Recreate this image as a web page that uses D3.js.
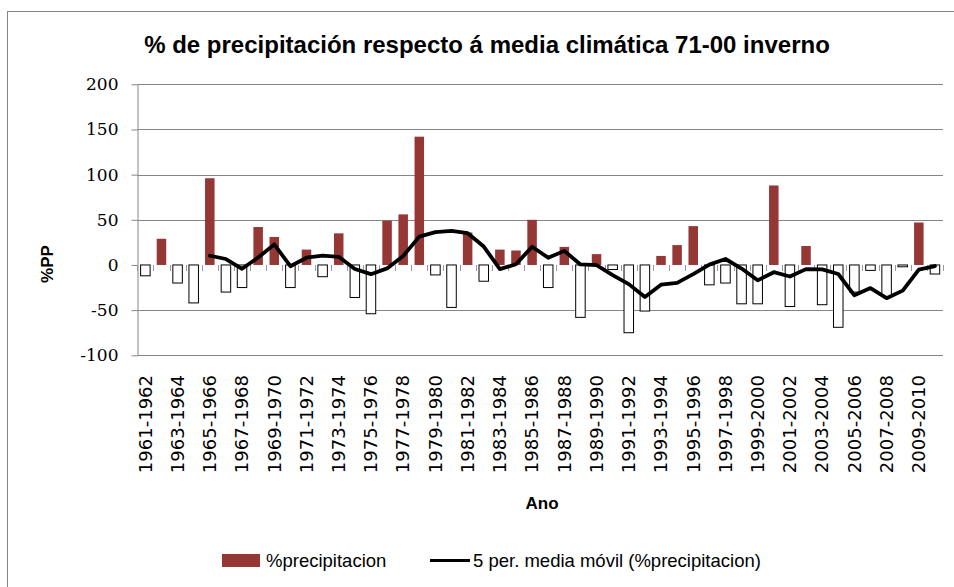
<!DOCTYPE html>
<html lang="gl">
<head>
  <meta charset="UTF-8">
  <title>% de precipitación inverno</title>
  <script src="https://d3js.org/d3.v7.min.js"></script>
  <style>
    body { margin: 0; padding: 0; background: #fff; }
    .title { font-family: "Liberation Sans", Arial, sans-serif; font-weight: bold; font-size: 24px; fill: #000; }
    .y-axis text { font-family: "DejaVu Serif", serif; font-size: 17px; fill: #000; }
    .y-axis path, .y-axis line { stroke: #868686; }
    .x-axis text { font-family: "DejaVu Sans", sans-serif; font-size: 18px; fill: #000; }
    .axis-title { font-family: "Liberation Sans", Arial, sans-serif; font-weight: bold; font-size: 17px; }
    .legend text { font-family: "Liberation Sans", Arial, sans-serif; font-size: 18.5px; }
  </style>
</head>
<body>
  <div id="chart"></div>
  <script>
    const categories = [
      "1961-1962", "1962-1963", "1963-1964", "1964-1965", "1965-1966", "1966-1967", "1967-1968", "1968-1969",
      "1969-1970", "1970-1971", "1971-1972", "1972-1973", "1973-1974", "1974-1975", "1975-1976", "1976-1977",
      "1977-1978", "1978-1979", "1979-1980", "1980-1981", "1981-1982", "1982-1983", "1983-1984", "1984-1985",
      "1985-1986", "1986-1987", "1987-1988", "1988-1989", "1989-1990", "1990-1991", "1991-1992", "1992-1993",
      "1993-1994", "1994-1995", "1995-1996", "1996-1997", "1997-1998", "1998-1999", "1999-2000", "2000-2001",
      "2001-2002", "2002-2003", "2003-2004", "2004-2005", "2005-2006", "2006-2007", "2007-2008", "2008-2009",
      "2009-2010", "2010-2011"
    ];

    // % precipitación respecto á media 71-00
    const precip = [
      -12, 29, -20, -42, 96, -30, -25, 42, 31, -25,
      17, -13, 35, -36, -54, 49, 56, 142, -11, -47,
      36, -18, 17, 16, 50, -25, 20, -58, 12, -5,
      -75, -51, 10, 22, 43, -22, -20, -43, -43, 88,
      -46, 21, -44, -69, -30, -6, -35, -2, 47, -10
    ];

    // 5 per. media móvil
    const movingAvg = [
      null, null, null, null, 10.2, 6.6, -4.2, 8.2, 22.8, -1.4,
      8, 10.4, 9, -4.4, -10.2, -3.8, 10, 31.4, 36.4, 37.8,
      35.2, 20.4, -4.6, 0.8, 20.2, 8, 15.6, 0.6, -0.2, -11.2,
      -21.2, -35.4, -21.8, -19.8, -10.2, 0.4, 6.6, -4, -17, -8,
      -12.8, -4.6, -4.8, -10, -33.6, -25.6, -36.8, -28.4, -5.2, -1.2
    ];

    const yTicks = [-100, -50, 0, 50, 100, 150, 200];

    const W = 954, H = 587;
    const plot = { left: 137.3, right: 943, top: 84.3, bottom: 355.3 };

    const svg = d3.select("#chart")
      .append("svg")
      .attr("width", W)
      .attr("height", H);

    // chart frame
    svg.append("rect")
      .attr("x", 7.5).attr("y", 11.5)
      .attr("width", 960).attr("height", 600)
      .attr("fill", "none")
      .attr("stroke", "#868686");

    svg.append("text")
      .attr("class", "title")
      .attr("x", 487)
      .attr("y", 53)
      .attr("text-anchor", "middle")
      .text("% de precipitación respecto á media climática 71-00 inverno");

    const x = d3.scaleBand()
      .domain(categories)
      .range([plot.left, plot.right])
      .paddingInner(0.41)
      .paddingOuter(0.205);

    const y = d3.scaleLinear()
      .domain([-100, 200])
      .range([plot.bottom, plot.top]);

    // gridlines
    svg.append("g")
      .selectAll("line")
      .data(yTicks.filter(d => d !== 0))
      .enter()
      .append("line")
      .attr("x1", plot.left)
      .attr("x2", plot.right)
      .attr("y1", d => Math.round(y(d)) + 0.5)
      .attr("y2", d => Math.round(y(d)) + 0.5)
      .attr("stroke", "#868686");

    // y axis (plain hyphen for negatives, as in the original)
    svg.append("g")
      .attr("class", "y-axis")
      .attr("transform", `translate(${Math.round(plot.left) + 0.5},0)`)
      .call(d3.axisLeft(y).tickValues(yTicks).tickFormat(d => String(d))
        .tickSize(6).tickPadding(13).tickSizeOuter(0));

    // tick marks on the zero line
    const step = x.step();
    const bounds = categories.map(c => x(c) - step * x.paddingInner() / 2).concat([plot.right]);
    svg.append("g")
      .selectAll("line")
      .data(bounds)
      .enter()
      .append("line")
      .attr("x1", d => Math.round(d) + 0.5)
      .attr("x2", d => Math.round(d) + 0.5)
      .attr("y1", y(0))
      .attr("y2", y(0) + 6)
      .attr("stroke", "#999");

    // bars
    const bw = x.bandwidth();
    svg.append("g")
      .selectAll("rect")
      .data(precip)
      .enter()
      .append("rect")
      .attr("x", (d, i) => x(categories[i]))
      .attr("y", d => y(Math.max(d, 0)))
      .attr("width", bw)
      .attr("height", d => Math.abs(y(d) - y(0)))
      .attr("fill", d => d >= 0 ? "#953735" : "#fff")
      .attr("stroke", d => d >= 0 ? "none" : "#000")
      .attr("stroke-width", 1);

    // moving average
    const line = d3.line()
      .defined(d => d !== null)
      .x((d, i) => x(categories[i]) + bw / 2)
      .y(d => y(d));

    svg.append("path")
      .datum(movingAvg)
      .attr("d", line)
      .attr("fill", "none")
      .attr("stroke", "#000")
      .attr("stroke-width", 3.8)
      .attr("stroke-linejoin", "round")
      .attr("stroke-linecap", "round");

    // x axis labels (every second season)
    const xAxis = svg.append("g")
      .attr("class", "x-axis")
      .attr("transform", "translate(0,375)")
      .call(d3.axisBottom(x).tickValues(categories.filter((d, i) => i % 2 === 0)).tickSize(0).tickPadding(0));
    xAxis.select(".domain").remove();
    xAxis.selectAll("text")
      .attr("transform", "rotate(-90)")
      .attr("text-anchor", "end")
      .attr("x", 0)
      .attr("y", 0)
      .attr("dy", "0.35em");

    // axis titles
    svg.append("text")
      .attr("class", "axis-title")
      .attr("transform", "translate(53,264) rotate(-90)")
      .attr("text-anchor", "middle")
      .text("%PP");

    svg.append("text")
      .attr("class", "axis-title")
      .attr("x", 542)
      .attr("y", 509)
      .attr("text-anchor", "middle")
      .text("Ano");

    // legend
    const legend = svg.append("g").attr("class", "legend");
    legend.append("rect")
      .attr("x", 222).attr("y", 554)
      .attr("width", 38).attr("height", 13)
      .attr("fill", "#953735");
    legend.append("text")
      .attr("x", 266).attr("y", 567)
      .text("%precipitacion");
    legend.append("line")
      .attr("x1", 430).attr("x2", 470)
      .attr("y1", 560.5).attr("y2", 560.5)
      .attr("stroke", "#000")
      .attr("stroke-width", 3);
    legend.append("text")
      .attr("x", 473).attr("y", 567)
      .text("5 per. media móvil (%precipitacion)");
  </script>
</body>
</html>
